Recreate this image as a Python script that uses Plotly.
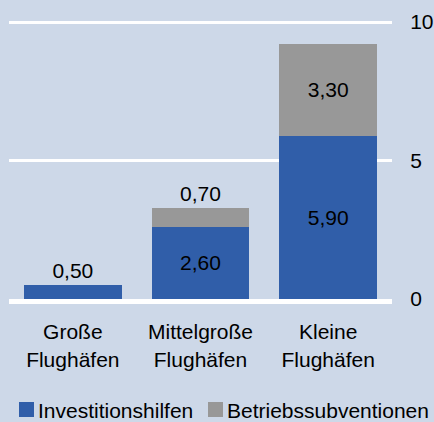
import plotly.graph_objects as go

# ---- data ----
categories = ["Große<br>Flughäfen", "Mittelgroße<br>Flughäfen", "Kleine<br>Flughäfen"]
investitionshilfen = [0.50, 2.60, 5.90]
betriebssubventionen = [None, 0.70, 3.30]
series_names = ["Investitionshilfen", "Betriebssubventionen"]
y_tick_values = [0, 5, 10]
y_tick_labels = ["0", "5", "10"]

BLUE = "#305EA9"
GRAY = "#989898"
BG = "#CDD8E8"
FONT = "Liberation Sans, Arial, sans-serif"


def fmt(v):
    return "" if v is None else f"{v:.2f}".replace(".", ",")


fig = go.Figure()
fig.add_bar(
    x=categories, y=investitionshilfen, name=series_names[0],
    marker=dict(color=BLUE, line=dict(width=0)),
    text=[fmt(v) for v in investitionshilfen],
    textposition=["outside", "inside", "inside"],
    insidetextanchor="middle", constraintext="none", cliponaxis=False,
    textfont=dict(size=21, color="black", family=FONT),
    showlegend=False,
)
fig.add_bar(
    x=categories, y=betriebssubventionen, name=series_names[1],
    marker=dict(color=GRAY, line=dict(width=0)),
    text=[fmt(v) for v in betriebssubventionen],
    textposition=["none", "outside", "inside"],
    insidetextanchor="middle", constraintext="none", cliponaxis=False,
    textfont=dict(size=21, color="black", family=FONT),
    showlegend=False,
)

# legend built from the series names and colours
PLOT_L, PLOT_R, PLOT_T, PLOT_B = 9, 392, 19, 299
Y_MAX = (PLOT_B - PLOT_T) / 27.7

def px(x):
    return (x - PLOT_L) / (PLOT_R - PLOT_L)
def py(y):
    return (PLOT_B - y) / (PLOT_B - PLOT_T)

legend_items = [(series_names[0], BLUE, 19), (series_names[1], GRAY, 208)]
shapes = []
annotations = []
for name, col, x0 in legend_items:
    shapes.append(dict(type="rect", xref="paper", yref="paper",
                       x0=px(x0), x1=px(x0 + 15), y0=py(417), y1=py(402),
                       fillcolor=col, line=dict(width=0)))
    annotations.append(dict(text=name, xref="paper", yref="paper",
                            x=px(x0 + 17), y=py(410), xanchor="left", yanchor="middle",
                            showarrow=False, font=dict(size=21, color="black", family=FONT)))

fig.update_layout(
    width=434, height=422,
    margin=dict(l=PLOT_L, r=434 - PLOT_R, t=PLOT_T, b=422 - PLOT_B, pad=0),
    paper_bgcolor=BG, plot_bgcolor=BG,
    barmode="stack", bargap=0.234,
    font=dict(family=FONT, size=21, color="black"),
    shapes=shapes, annotations=annotations,
    xaxis=dict(
        showgrid=False, zeroline=False, automargin=False,
        showline=True, linecolor="white", linewidth=5,
        ticks="outside", ticklen=10, tickcolor="rgba(0,0,0,0)",
        tickfont=dict(size=21, color="black"),
    ),
    yaxis=dict(
        side="right", range=[0, Y_MAX], automargin=False,
        tickvals=y_tick_values, ticktext=y_tick_labels,
        showgrid=True, gridcolor="white", gridwidth=2.5,
        zeroline=False, showline=False,
        ticks="outside", ticklen=13, tickcolor="rgba(0,0,0,0)",
        tickfont=dict(size=21, color="black"),
    ),
)

fig.write_html("out.html", config={"displayModeBar": False},
               post_script="document.body.style.margin='0';")
